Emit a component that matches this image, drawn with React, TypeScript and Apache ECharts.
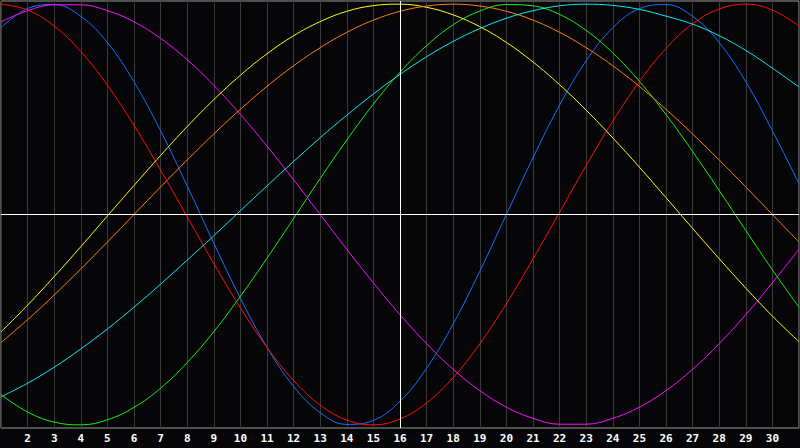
import { useEffect, useRef } from "react";
import * as echarts from "echarts";

// days shown on the x axis (1..31, labels for 2..30)
const days = [
  1, 2, 3, 4, 5, 6, 7, 8, 9, 10, 11, 12, 13, 14, 15, 16, 17, 18, 19, 20, 21,
  22, 23, 24, 25, 26, 27, 28, 29, 30, 31,
];

// cycle values in percent, read per day from the picture
const physical = [
  88.8, 97.9, 99.8, 94.2, 81.7, 63.1, 39.8, 13.6, -13.6, -39.8, -63.1, -81.7,
  -94.2, -99.8, -97.9, -88.8, -73.1, -52.0, -27.0, 0, 27.0, 52.0, 73.1, 88.8,
  97.9, 99.8, 94.2, 81.7, 63.1, 39.8, 14.6,
];
const emotional = [
  100, 97.2, 89.6, 77.5, 61.5, 42.4, 21.1, -1.1, -23.3, -44.4, -63.2, -78.9,
  -90.6, -97.7, -100, -97.2, -89.6, -77.5, -61.5, -42.4, -21.1, 1.1, 23.3,
  44.4, 63.2, 78.9, 90.6, 97.7, 100, 97.2, 89.6,
];
const intellectual = [
  -85.6, -93.9, -98.7, -100, -97.6, -91.7, -82.6, -70.4, -55.7, -38.9, -20.8,
  -1.9, 17.1, 35.4, 52.5, 67.6, 80.3, 90.2, 96.7, 99.8, 99.2, 95.1, 87.5,
  76.8, 63.3, 47.5, 30.0, 11.4, -7.6, -26.3, -44.1,
];
const intuitive = [
  91.6, 96.9, 99.7, 99.7, 96.9, 91.6, 83.7, 73.6, 61.4, 47.6, 32.5, 16.5, 0,
  -16.5, -32.5, -47.6, -61.4, -73.6, -83.7, -91.6, -96.9, -99.7, -99.7, -96.9,
  -91.6, -83.7, -73.6, -61.4, -47.6, -32.5, -16.5,
];
const aesthetic = [
  -55.8, -43.1, -29.5, -15.3, -0.7, 13.8, 28.1, 41.8, 54.6, 66.2, 76.4, 85.0,
  91.7, 96.6, 99.3, 100, 98.5, 94.9, 89.3, 81.8, 72.5, 61.7, 49.6, 36.4, 22.5,
  8.0, -6.6, -21.0, -35.0, -48.3, -60.5,
];
const awareness = [
  -60.9, -50, -38.3, -25.9, -13.1, 0, 13.1, 25.9, 38.3, 50, 60.9, 70.7, 79.3,
  86.6, 92.4, 96.6, 99.1, 100, 99.1, 96.6, 92.4, 86.6, 79.3, 70.7, 60.9, 50,
  38.3, 25.9, 13.1, 0, -13.1,
];
const spiritual = [
  -86.7, -80.2, -72.6, -63.9, -54.4, -44.1, -33.1, -21.7, -10.1, 1.8, 13.6,
  25.2, 36.5, 47.2, 57.3, 66.6, 75.0, 82.3, 88.4, 93.3, 96.9, 99.2, 100, 99.4,
  97.5, 94.3, 90.5, 85.0, 78.0, 69.6, 60.6,
];

const today = 16;

const cycles = [
  { name: "Physical", values: physical, color: "#1870ff" },
  { name: "Emotional", values: emotional, color: "#ff1010" },
  { name: "Intellectual", values: intellectual, color: "#18f018" },
  { name: "Intuitive", values: intuitive, color: "#ff10ff" },
  { name: "Aesthetic", values: aesthetic, color: "#ffff10" },
  { name: "Awareness", values: awareness, color: "#ff8010" },
  { name: "Spiritual", values: spiritual, color: "#10e8f0" },
];

export default function App() {
  const chartRef = useRef<HTMLDivElement>(null);

  useEffect(() => {
    if (!chartRef.current) return;
    const chart = echarts.init(chartRef.current, null, { renderer: "svg" });

    chart.setOption({
      animation: false,
      backgroundColor: "#060608",
      grid: {
        left: 1,
        right: 1,
        top: 1,
        bottom: 20,
        show: true,
        borderColor: "#9a9a9a",
        borderWidth: 1,
      },
      xAxis: {
        type: "value",
        min: 1,
        max: 31,
        interval: 1,
        axisLine: { show: false },
        axisTick: { show: false },
        splitLine: { show: true, lineStyle: { color: "#3a3a3a", width: 1 } },
        axisLabel: {
          color: "#ffffff",
          fontWeight: "bold",
          fontSize: 11,
          fontFamily: "DejaVu Sans Mono",
          margin: 5,
          showMinLabel: false,
          showMaxLabel: false,
        },
      },
      yAxis: {
        type: "value",
        min: -101.5,
        max: 101.5,
        axisLine: { show: false },
        axisTick: { show: false },
        axisLabel: { show: false },
        splitLine: { show: false },
      },
      series: [
        {
          type: "line",
          data: [],
          z: 1,
          markLine: {
            silent: true,
            symbol: "none",
            label: { show: false },
            lineStyle: { color: "#ffffff", width: 1, type: "solid" },
            data: [{ yAxis: 0 }, { xAxis: today }],
          },
        },
        ...cycles.map((c) => ({
          name: c.name,
          type: "line",
          z: 2,
          smooth: 0.4,
          showSymbol: false,
          lineStyle: { color: c.color, width: 1 },
          itemStyle: { color: c.color },
          data: days.map((d, i) => [d, c.values[i]]),
        })),
      ],
    });

    return () => {
      chart.dispose();
    };
  }, []);

  return (
    <div
      ref={chartRef}
      style={{ position: "absolute", left: 0, top: 0, width: 800, height: 448 }}
    />
  );
}
